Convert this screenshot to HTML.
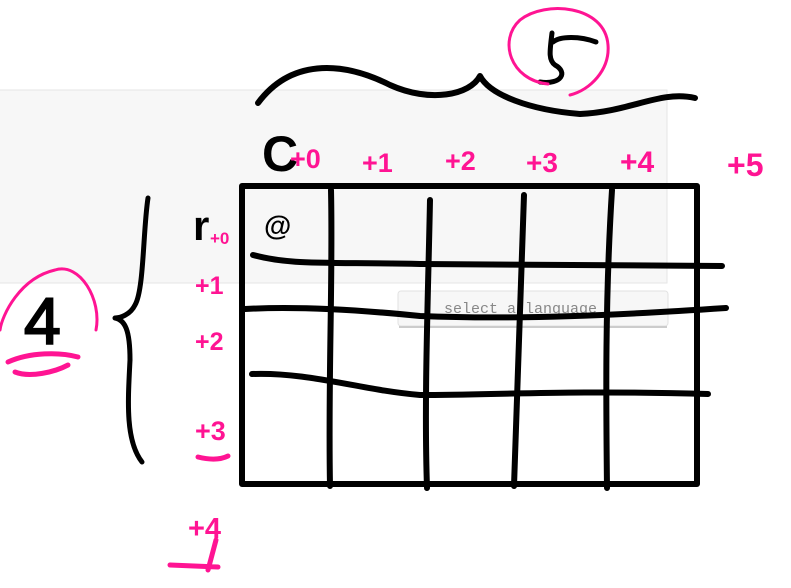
<!DOCTYPE html>
<html><head><meta charset="utf-8"><style>
html,body{margin:0;padding:0;background:#fff;width:791px;height:588px;overflow:hidden}
svg{display:block}
.k{fill:none;stroke:#000;stroke-width:6;stroke-linecap:round;stroke-linejoin:round}
.p{fill:none;stroke:#ff1493;stroke-width:3;stroke-linecap:round}
.pl{font-family:"Liberation Sans",sans-serif;font-weight:bold;fill:#ff1493}
</style></head><body>
<svg width="791" height="588" viewBox="0 0 791 588">
<rect x="-2" y="90" width="669" height="193" fill="#f7f7f7" stroke="#e6e6e6"/>
<g>
<rect x="398" y="291" width="270" height="35" rx="3" fill="#f7f7f7" stroke="#e2e2e2"/>
<line x1="399" y1="327" x2="667" y2="327" stroke="#ccc" stroke-width="2"/>
<text x="444" y="313" font-family="Liberation Mono,monospace" font-size="15" fill="#888">select a language</text>
</g>
<g>
<path class="k" d="M258,103 C290,60 340,60 390,85 C430,103 470,95 480,76 C490,95 530,110 580,114 C630,112 660,90 695,98"/>
</g>
<g>
<path class="k" style="stroke-width:5" d="M596,42 C580,36 560,36 553,42 M552,33 C550,50 548,60 555,65 C568,72 562,85 540,82"/>
<path class="p" d="M548,84 C510,80 498,40 520,20 C545,0 605,5 608,45 C610,70 590,90 570,95"/>
</g>
<g>
<text x="262" y="171" font-family="Liberation Sans,sans-serif" font-size="50" font-weight="bold" fill="#000">C</text>
<text class="pl" x="290" y="168" font-size="27">+0</text>
<text class="pl" x="362" y="172" font-size="27">+1</text>
<text class="pl" x="445" y="170" font-size="27">+2</text>
<text class="pl" x="526" y="172" font-size="28">+3</text>
<text class="pl" x="620" y="172" font-size="30">+4</text>
<text class="pl" x="727" y="176" font-size="32">+5</text>
</g>
<g>
<text x="193" y="240" font-family="Liberation Sans,sans-serif" font-size="42" font-weight="bold" fill="#000">r</text>
<text class="pl" x="210" y="244" font-size="17">+0</text>
<text x="264" y="235" font-family="Liberation Sans,sans-serif" font-size="28" font-weight="bold" fill="#000">@</text>
<text class="pl" x="195" y="294" font-size="25">+1</text>
<text class="pl" x="195" y="350" font-size="25">+2</text>
<text class="pl" x="195" y="440" font-size="27">+3</text>
<path class="p" style="stroke-width:5" d="M198,457 C210,460 220,460 228,456"/>
<text class="pl" x="188" y="538" font-size="29">+4</text>
<path class="p" style="stroke-width:5" d="M170,565 L218,567 M216,540 L208,570"/>
</g>
<g>
<path class="k" style="stroke-width:5" d="M148,198 C143,230 144,290 135,305 C130,315 120,318 115,318 C125,320 130,330 130,360 C128,400 125,440 142,462"/>
<text x="24" y="344" font-family="Liberation Sans,sans-serif" font-size="66" fill="#000" stroke="#000" stroke-width="2">4</text>
<path class="p" d="M96,330 C102,300 80,262 55,270 C20,278 2,315 0,330"/>
<path class="p" style="stroke-width:5" d="M8,362 C30,352 60,352 78,357 M15,372 C30,378 55,372 68,365"/>
</g>
<g>
<rect class="k" x="242" y="186" width="455" height="298"/>
<path class="k" d="M331,190 C333,280 328,380 330,486"/>
<path class="k" d="M430,200 C428,300 424,400 427,488"/>
<path class="k" d="M524,195 C521,300 517,400 514,486"/>
<path class="k" d="M612,190 C605,300 606,400 607,488"/>
<path class="k" d="M253,255 C290,265 320,262 420,264 C520,265 620,265 722,266"/>
<path class="k" d="M245,309 C300,306 360,310 420,316 C520,320 620,315 726,308"/>
<path class="k" d="M252,374 C310,372 360,390 420,395 C500,395 560,390 708,394"/>
</g>
</svg>
</body></html>
